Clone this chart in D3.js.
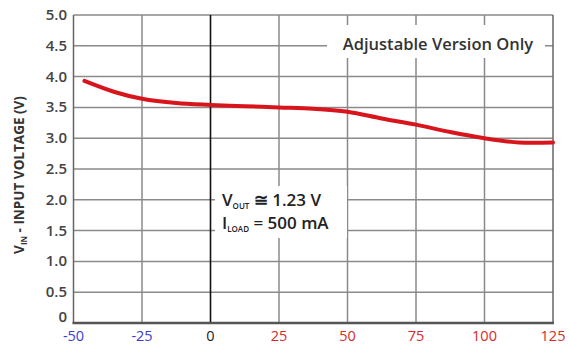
<!DOCTYPE html>
<html>
<head>
<meta charset="utf-8">
<script src="https://cdn.jsdelivr.net/npm/d3@7"></script>
<style>
  body { margin: 0; background: #fff; }
  svg text { font-family: "Open Sans", "Noto Sans", sans-serif; }
</style>
</head>
<body>
<div id="chart"></div>
<script>
// Data
const temps = [-46, -35, -25, -12.5, 0, 12.5, 25, 37.5, 50, 62.5, 75, 87.5, 100, 112.5, 125];
const vin = [3.93, 3.75, 3.64, 3.57, 3.54, 3.52, 3.50, 3.48, 3.43, 3.32, 3.22, 3.10, 3.00, 2.93, 2.93];
const xTicks = [-50, -25, 0, 25, 50, 75, 100, 125];
const yTicks = [0, 0.5, 1.0, 1.5, 2.0, 2.5, 3.0, 3.5, 4.0, 4.5, 5.0];

const width = 570, height = 347;
const margin = {top: 15, right: 17, bottom: 24, left: 73.5};

const svg = d3.select('#chart').append('svg')
    .attr('width', width)
    .attr('height', height);

const x = d3.scaleLinear().domain([-50, 125]).range([margin.left, width - margin.right]);
const y = d3.scaleLinear().domain([0, 5]).range([height - margin.bottom, margin.top]);

// grid
svg.append('g').selectAll('line.h')
    .data(yTicks.filter(d => d > 0))
  .join('line')
    .attr('x1', x(-50)).attr('x2', x(125))
    .attr('y1', d => y(d)).attr('y2', d => y(d))
    .attr('stroke', '#8a8a8a').attr('stroke-width', 1.5);

svg.append('g').selectAll('line.v')
    .data(xTicks.filter(d => d !== 0))
  .join('line')
    .attr('x1', d => x(d)).attr('x2', d => x(d))
    .attr('y1', y(0)).attr('y2', y(5))
    .attr('stroke', d => (d === -50 || d === 125) ? '#666' : '#8a8a8a')
    .attr('stroke-width', 1.5);

// zero line
svg.append('line')
    .attr('x1', x(0)).attr('x2', x(0))
    .attr('y1', y(0)).attr('y2', y(5))
    .attr('stroke', '#111').attr('stroke-width', 1.6);

// bottom axis line
svg.append('line')
    .attr('x1', x(-50) - 1).attr('x2', x(125) + 1)
    .attr('y1', y(0)).attr('y2', y(0))
    .attr('stroke', '#555').attr('stroke-width', 2.5);

// annotation boxes (white, break the grid)
svg.append('rect')
    .attr('x', 327).attr('y', 25).attr('width', 218).attr('height', 33)
    .attr('fill', '#fff');
svg.append('rect')
    .attr('x', 215).attr('y', 186).attr('width', 132).attr('height', 52)
    .attr('fill', '#fff');

// curve
const line = d3.line()
    .x((d, i) => x(temps[i]))
    .y(d => y(d))
    .curve(d3.curveCatmullRom.alpha(0.5));

svg.append('path')
    .datum(vin)
    .attr('d', line)
    .attr('fill', 'none')
    .attr('stroke', '#d8151c')
    .attr('stroke-width', 4)
    .attr('stroke-linecap', 'round');

// y tick labels
svg.append('g').selectAll('text')
    .data(yTicks)
  .join('text')
    .attr('x', 67)
    .attr('y', d => y(d) + (d === 0 ? -1 : 5))
    .attr('text-anchor', 'end')
    .attr('font-size', 15)
    .attr('font-weight', 600)
    .attr('fill', '#444')
    .text(d => d === 0 ? '0' : d.toFixed(1));

// x tick labels
svg.append('g').selectAll('text')
    .data(xTicks)
  .join('text')
    .attr('x', d => x(d))
    .attr('y', 341)
    .attr('text-anchor', 'middle')
    .attr('font-size', 14.5)
    .attr('fill', d => d < 0 ? '#3b3bd6' : (d === 0 ? '#222' : '#d62a2a'))
    .text(d => d);

// y axis title
const title = svg.append('text')
    .attr('transform', 'translate(24,175) rotate(-90)')
    .attr('text-anchor', 'middle')
    .attr('font-size', 13.5)
    .attr('font-weight', 'bold')
    .attr('fill', '#333');
title.append('tspan').text('V');
title.append('tspan').attr('font-size', 8).attr('dy', 3).text('IN');
title.append('tspan').attr('dy', -3).text(' - INPUT VOLTAGE (V)');

// annotations
svg.append('text')
    .attr('x', 438).attr('y', 50)
    .attr('text-anchor', 'middle')
    .attr('font-size', 16.5)
    .attr('font-weight', 600)
    .attr('fill', '#333')
    .text('Adjustable Version Only');

const a1 = svg.append('text')
    .attr('x', 222).attr('y', 206)
    .attr('font-size', 17)
    .attr('font-weight', 600)
    .attr('fill', '#222');
a1.append('tspan').text('V');
a1.append('tspan').attr('font-size', 8).attr('dy', 3).text('OUT');
a1.append('tspan').attr('dy', -3).text(' \u2245 1.23 V');

const a2 = svg.append('text')
    .attr('x', 222).attr('y', 229)
    .attr('font-size', 17)
    .attr('font-weight', 600)
    .attr('fill', '#222');
a2.append('tspan').text('I');
a2.append('tspan').attr('font-size', 8).attr('dy', 3).text('LOAD');
a2.append('tspan').attr('dy', -3).text(' = 500 mA');
</script>
</body>
</html>
